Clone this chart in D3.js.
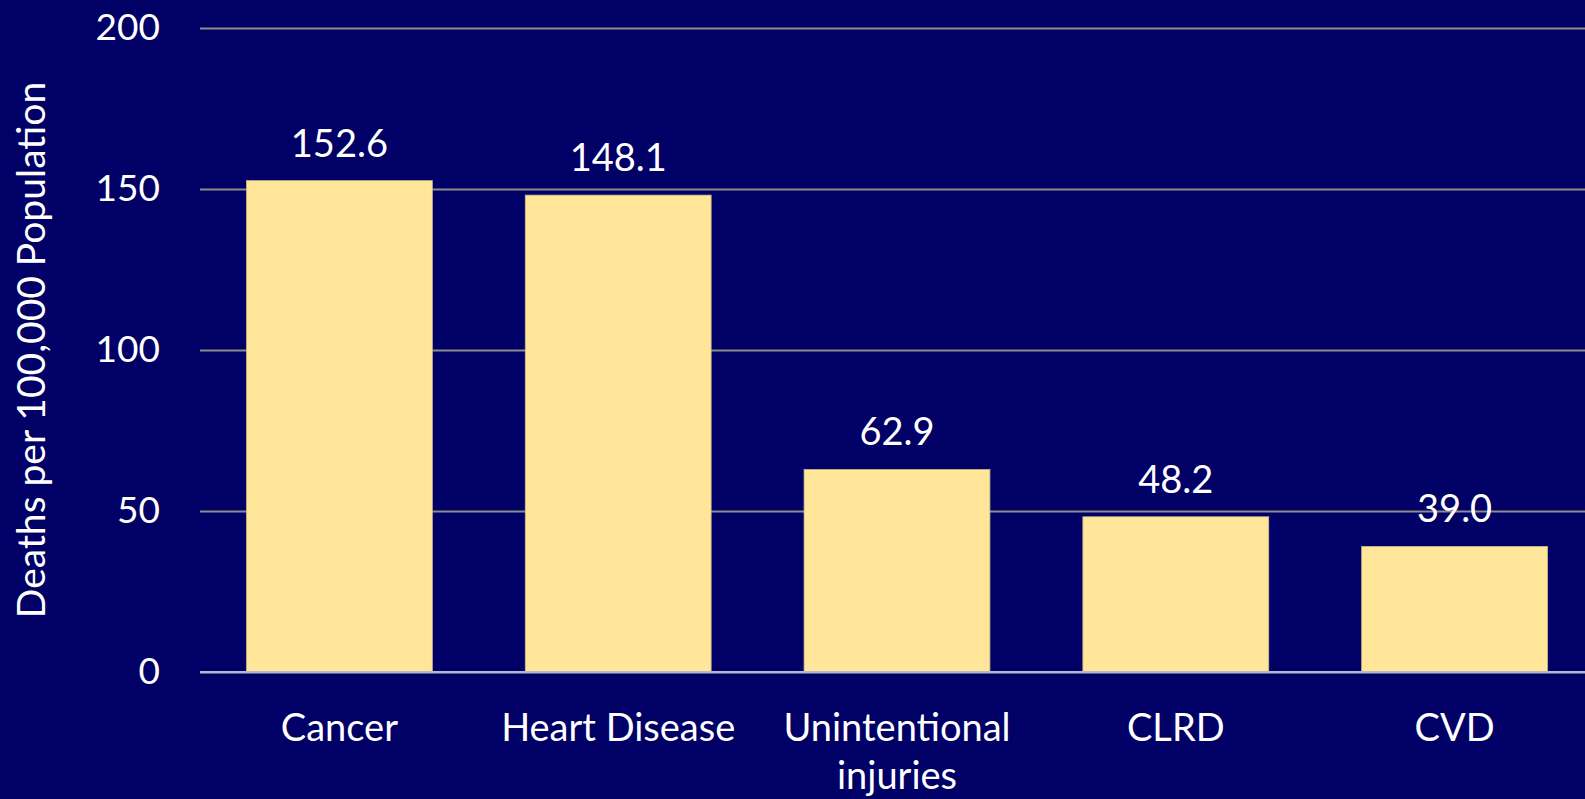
<!DOCTYPE html>
<html>
<head>
<meta charset="utf-8">
<script src="https://cdn.jsdelivr.net/npm/d3@7"></script>
<style>
  html, body { margin: 0; padding: 0; background: #000066; }
  svg { display: block; }
  text { font-family: Lato, "Open Sans", sans-serif; fill: #ffffff; }
</style>
</head>
<body>
<svg id="chart" width="1585" height="799"></svg>
<script>
// Age-adjusted death rates by leading cause
const categories = ["Cancer", "Heart Disease", "Unintentional injuries", "CLRD", "CVD"];
const rates = [152.6, 148.1, 62.9, 48.2, 39.0];
const yTicks = [0, 50, 100, 150, 200];
const yTitle = "Deaths per 100,000 Population";

const W = 1585, H = 799;
const margin = { left: 200, right: -9, top: 28, bottom: 127 };
const svg = d3.select("#chart");

const x = d3.scaleBand()
  .domain(categories)
  .range([margin.left, W - margin.right])
  .paddingInner(1 / 3)
  .paddingOuter(1 / 6);

const y = d3.scaleLinear()
  .domain([0, 200])
  .range([H - margin.bottom, margin.top]);

// Horizontal gridlines with tick labels
const yAxis = d3.axisLeft(y)
  .tickValues(yTicks)
  .tickSize(-(W - margin.left + 20))
  .tickPadding(40)
  .tickFormat(d3.format("d"));

const gy = svg.append("g")
  .attr("transform", `translate(${margin.left},0)`)
  .call(yAxis);
gy.select(".domain").remove();
gy.selectAll(".tick line")
  .attr("stroke", d => d === 0 ? "#b8b8cc" : "#8c8c8c")
  .attr("stroke-width", 2);
gy.selectAll(".tick text")
  .attr("font-size", 37)
  .attr("fill", "#ffffff")
  .attr("font-family", "Lato, sans-serif");

// Bars
svg.append("g").selectAll("rect")
  .data(rates)
  .join("rect")
  .attr("x", (d, i) => x(categories[i]))
  .attr("width", x.bandwidth())
  .attr("y", d => y(d))
  .attr("height", d => y(0) - y(d))
  .attr("fill", "#ffe699")
  .attr("stroke", "#c8b98a")
  .attr("stroke-width", 0.8);

// Baseline redrawn on top of the bars
svg.append("line")
  .attr("x1", margin.left).attr("x2", W)
  .attr("y1", y(0)).attr("y2", y(0))
  .attr("stroke", "#b8b8cc")
  .attr("stroke-width", 2);

// Value labels
svg.append("g").selectAll("text")
  .data(rates)
  .join("text")
  .attr("x", (d, i) => x(categories[i]) + x.bandwidth() / 2)
  .attr("y", d => y(d) - 24)
  .attr("text-anchor", "middle")
  .attr("font-size", 38)
  .text(d => d.toFixed(1));

// Category labels, wrapped to the band step
const step = x.step();
const catG = svg.append("g");
categories.forEach(name => {
  const cx = x(name) + x.bandwidth() / 2;
  const t = catG.append("text")
    .attr("x", cx)
    .attr("y", y(0) + 69)
    .attr("text-anchor", "middle")
    .attr("font-size", 38);
  const words = name.split(" ");
  let line = [];
  let tspan = t.append("tspan").attr("x", cx).attr("dy", 0);
  words.forEach(w => {
    line.push(w);
    tspan.text(line.join(" "));
    if (tspan.node().getComputedTextLength() > step - 10 && line.length > 1) {
      line.pop();
      tspan.text(line.join(" "));
      line = [w];
      tspan = t.append("tspan")
        .attr("x", cx)
        .attr("dy", 48)
        .text(w);
    }
  });
});

// Y axis title
svg.append("text")
  .attr("transform", `translate(45,${(y(0) + y(200)) / 2}) rotate(-90)`)
  .attr("text-anchor", "middle")
  .attr("font-size", 39)
  .text(yTitle);
</script>
</body>
</html>
